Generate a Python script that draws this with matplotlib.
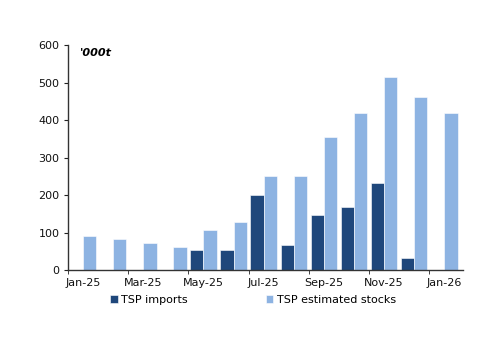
import numpy as np
import matplotlib
matplotlib.use("Agg")
import matplotlib.pyplot as plt

months = ["Jan-25", "Feb-25", "Mar-25", "Apr-25", "May-25", "Jun-25", "Jul-25",
          "Aug-25", "Sep-25", "Oct-25", "Nov-25", "Dec-25", "Jan-26"]
imports = [0, 0, 0, 0, 54, 54, 199, 68, 148, 167, 231, 33, 0]
stocks = [91, 84, 71, 62, 107, 127, 251, 251, 355, 420, 515, 461, 418]

DARK = "#1f477b"
LIGHT = "#8db3e2"

plt.rcParams["font.family"] = "DejaVu Sans"
fig = plt.figure(figsize=(5.0, 3.53), dpi=100)
ax = fig.add_axes([0.136, 0.235, 0.79, 0.6375])

x = np.arange(len(months))
w = 0.44
ax.bar(x - w / 2, imports, w, color=DARK, edgecolor="white", linewidth=0.4, label="TSP imports")
ax.bar(x + w / 2, stocks, w, color=LIGHT, edgecolor="white", linewidth=0.4, label="TSP estimated stocks")

ax.set_ylim(0, 600)
ax.set_yticks(range(0, 601, 100))
ax.set_xlim(-0.5, 12.62)

# labels at every second month, tick marks at category boundaries
ax.set_xticks(x[::2])
ax.set_xticklabels(months[::2])
ax.tick_params(axis="x", length=0, pad=6)
ax.set_xticks(np.arange(-0.5, 12, 2), minor=True)
ax.tick_params(axis="x", which="minor", length=3, direction="out", color="#222222")
ax.tick_params(axis="y", length=3, direction="out", color="#222222", pad=3)
ax.tick_params(labelsize=8, labelcolor="#111111")

for s in ["top", "right"]:
    ax.spines[s].set_visible(False)
for s in ["left", "bottom"]:
    ax.spines[s].set_color("#333333")
    ax.spines[s].set_linewidth(1.0)

ax.text(0.03, 0.985, "'000t", transform=ax.transAxes, fontsize=8,
        fontstyle="italic", fontweight="bold", va="top", ha="left")

fig.legend(loc="center", bbox_to_anchor=(0.506, 0.15), ncol=2, frameon=False,
           fontsize=8, handlelength=0.7, handleheight=0.7, handletextpad=0.3,
           columnspacing=7)

fig.savefig("out.png", dpi=100, facecolor="white")
